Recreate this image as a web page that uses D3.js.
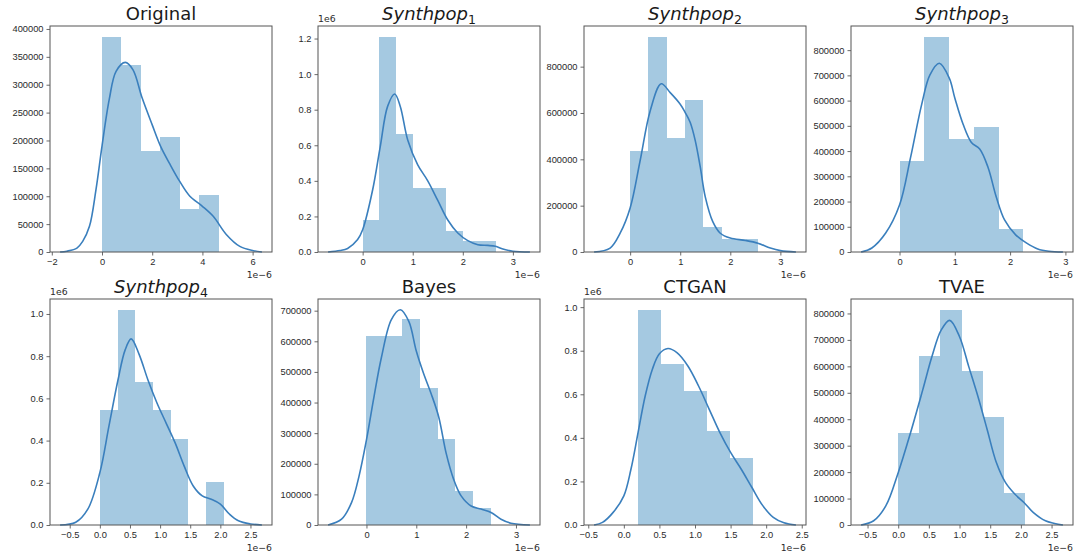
<!DOCTYPE html>
<html>
<head>
<meta charset="utf-8">
<script src="https://cdn.jsdelivr.net/npm/d3@7"></script>
<style>
  * { margin: 0; padding: 0; }
  body { background: #fff; width: 1075px; height: 556px; overflow: hidden; }
  svg { font-family: "DejaVu Sans", sans-serif; }
  .tick text { font-size: 9.3px; fill: #2a2a2a; }
  .tick line { stroke: #444; stroke-width: 0.8; }
</style>
</head>
<body>
<svg id="chart" width="1075" height="556"></svg>
<script>
// x values are in units of 1e-6 (as the axes read), y values are densities

// Original
const origEdges = [0, 0.775, 1.55, 2.325, 3.1, 3.875, 4.65];
const origHeights = [386000, 335000, 181000, 207000, 78000, 103000];
const origKdeX = [-1.67, -1.4, -1.0, -0.77, -0.5, -0.24, 0, 0.29, 0.56, 0.93, 1.23, 1.6, 2.0, 2.33, 2.7, 3.09, 3.5, 4.0, 4.43, 4.96, 5.49, 6.03, 6.37];
const origKdeY = [0, 1500, 7000, 19000, 46000, 112000, 190000, 274000, 324000, 340000, 327000, 276000, 228000, 190000, 158000, 127000, 100000, 82000, 64000, 31000, 10000, 2400, 0];
const origXTicks = [-2, 0, 2, 4, 6];
const origYTicks = [0, 50000, 100000, 150000, 200000, 250000, 300000, 350000, 400000];

// Synthpop 1
const sp1Edges = [0, 0.3325, 0.665, 0.9975, 1.33, 1.6625, 1.995, 2.3275, 2.66];
const sp1Heights = [180000, 1210000, 665000, 360000, 360000, 120000, 60000, 60000];
const sp1KdeX = [-0.69, -0.45, -0.3, -0.1, 0, 0.2, 0.35, 0.5, 0.64, 0.75, 0.9, 1.1, 1.3, 1.5, 1.7, 1.9, 2.1, 2.3, 2.5, 2.65, 2.8, 3.0, 3.34];
const sp1KdeY = [0, 8000, 20000, 70000, 125000, 350000, 590000, 820000, 888000, 820000, 630000, 490000, 400000, 290000, 180000, 107000, 64000, 41000, 37000, 32000, 17000, 4000, 0];
const sp1XTicks = [0, 1, 2, 3];
const sp1YTicks = [0, 200000, 400000, 600000, 800000, 1000000, 1200000];

// Synthpop 2
const sp2Edges = [0, 0.366, 0.731, 1.097, 1.463, 1.829, 2.194, 2.56];
const sp2Heights = [437000, 929000, 492000, 656000, 109000, 55000, 55000];
const sp2KdeX = [-0.72, -0.4, -0.2, 0, 0.2, 0.4, 0.62, 0.8, 1.0, 1.1, 1.2, 1.3, 1.4, 1.5, 1.65, 1.8, 2.0, 2.3, 2.55, 2.8, 3.0, 3.31];
const sp2KdeY = [0, 17000, 81000, 190000, 395000, 609000, 726000, 688000, 638000, 602000, 559000, 481000, 367000, 238000, 131000, 81000, 60000, 50000, 38000, 17000, 6000, 0];
const sp2XTicks = [0, 1, 2, 3];
const sp2YTicks = [0, 200000, 400000, 600000, 800000];

// Synthpop 3
const sp3Edges = [0, 0.448, 0.896, 1.344, 1.792, 2.24];
const sp3Heights = [359000, 853000, 449000, 494000, 90000];
const sp3KdeX = [-0.695, -0.5, -0.25, 0, 0.2, 0.4, 0.55, 0.72, 0.9, 1.0, 1.15, 1.3, 1.45, 1.6, 1.75, 1.9, 2.1, 2.3, 2.5, 2.7, 2.955];
const sp3KdeY = [0, 16000, 75000, 186000, 375000, 584000, 702000, 748000, 689000, 610000, 506000, 434000, 408000, 336000, 218000, 127000, 68000, 35000, 12000, 3000, 0];
const sp3XTicks = [0, 1, 2, 3];
const sp3YTicks = [0, 100000, 200000, 300000, 400000, 500000, 600000, 700000, 800000];

// Synthpop 4
const sp4Edges = [0, 0.294, 0.589, 0.883, 1.177, 1.471, 1.766, 2.06];
const sp4Heights = [544000, 1020000, 680000, 544000, 408000, 0, 204000];
const sp4KdeX = [-0.66, -0.4, -0.2, 0, 0.15, 0.3, 0.42, 0.52, 0.65, 0.8, 0.95, 1.1, 1.25, 1.4, 1.55, 1.7, 1.85, 2.0, 2.15, 2.3, 2.5, 2.69];
const sp4KdeY = [0, 13000, 75000, 248000, 467000, 686000, 830000, 882000, 810000, 686000, 577000, 483000, 389000, 279000, 185000, 138000, 122000, 99000, 52000, 20000, 5000, 0];
const sp4XTicks = [-0.5, 0, 0.5, 1, 1.5, 2, 2.5];
const sp4YTicks = [0, 200000, 400000, 600000, 800000, 1000000];

// Bayes
const bayesEdges = [0, 0.357, 0.714, 1.071, 1.429, 1.786, 2.143, 2.5];
const bayesHeights = [616000, 616000, 672000, 448000, 280000, 112000, 56000];
const bayesKdeX = [-0.77, -0.5, -0.3, -0.15, 0, 0.15, 0.3, 0.5, 0.68, 0.85, 1.0, 1.15, 1.3, 1.45, 1.6, 1.75, 1.9, 2.1, 2.3, 2.5, 2.7, 2.9, 3.28];
const bayesKdeY = [0, 19000, 73000, 159000, 278000, 418000, 547000, 671000, 703000, 665000, 568000, 493000, 428000, 353000, 234000, 149000, 95000, 62000, 52000, 41000, 19000, 6000, 0];
const bayesXTicks = [0, 1, 2, 3];
const bayesYTicks = [0, 100000, 200000, 300000, 400000, 500000, 600000, 700000];

// CTGAN
const ctganEdges = [0.2, 0.524, 0.848, 1.172, 1.496, 1.82];
const ctganHeights = [988000, 741000, 617000, 432000, 309000];
const ctganKdeX = [-0.418, -0.3, -0.15, 0, 0.1, 0.2, 0.3, 0.4, 0.5, 0.62, 0.75, 0.9, 1.05, 1.2, 1.35, 1.5, 1.65, 1.8, 1.95, 2.1, 2.25, 2.418];
const ctganKdeY = [0, 12000, 58000, 134000, 256000, 424000, 592000, 714000, 786000, 810000, 790000, 730000, 638000, 531000, 424000, 333000, 256000, 172000, 90000, 35000, 10000, 0];
const ctganXTicks = [-0.5, 0, 0.5, 1, 1.5, 2, 2.5];
const ctganYTicks = [0, 200000, 400000, 600000, 800000, 1000000];

// TVAE
const tvaeEdges = [0, 0.344, 0.688, 1.032, 1.376, 1.72, 2.064];
const tvaeHeights = [349000, 639000, 814000, 581000, 407000, 120000];
const tvaeKdeX = [-0.605, -0.4, -0.2, 0, 0.2, 0.4, 0.55, 0.7, 0.84, 1.0, 1.15, 1.3, 1.45, 1.6, 1.75, 1.9, 2.05, 2.2, 2.4, 2.55, 2.685];
const tvaeKdeY = [0, 16000, 73000, 198000, 348000, 511000, 637000, 737000, 774000, 712000, 599000, 486000, 361000, 236000, 160000, 117000, 85000, 48000, 16000, 6000, 0];
const tvaeXTicks = [-0.5, 0, 0.5, 1, 1.5, 2, 2.5];
const tvaeYTicks = [0, 100000, 200000, 300000, 400000, 500000, 600000, 700000, 800000];

const titles = ["Original", "Synthpop", "Synthpop", "Synthpop", "Synthpop", "Bayes", "CTGAN", "TVAE"];
const titleSubs = ["", "1", "2", "3", "4", "", "", ""];
const sciY = [false, true, false, false, true, false, true, false]; // y axis shown with a 1e6 offset

const panels = [
  [origEdges, origHeights, origKdeX, origKdeY, origXTicks, origYTicks],
  [sp1Edges, sp1Heights, sp1KdeX, sp1KdeY, sp1XTicks, sp1YTicks],
  [sp2Edges, sp2Heights, sp2KdeX, sp2KdeY, sp2XTicks, sp2YTicks],
  [sp3Edges, sp3Heights, sp3KdeX, sp3KdeY, sp3XTicks, sp3YTicks],
  [sp4Edges, sp4Heights, sp4KdeX, sp4KdeY, sp4XTicks, sp4YTicks],
  [bayesEdges, bayesHeights, bayesKdeX, bayesKdeY, bayesXTicks, bayesYTicks],
  [ctganEdges, ctganHeights, ctganKdeX, ctganKdeY, ctganXTicks, ctganYTicks],
  [tvaeEdges, tvaeHeights, tvaeKdeX, tvaeKdeY, tvaeXTicks, tvaeYTicks]
].map((p, i) => ({
  edges: p[0], heights: p[1],
  kde: p[2].map((x, j) => [x, p[3][j]]),
  xTicks: p[4], yTicks: p[5],
  title: titles[i], sub: titleSubs[i], sci: sciY[i]
}));

const colLeft = [50, 318, 584, 851];
const rowTop = [26, 299];
const pw = 222, ph = 226;
const blue = "#1f77b4";

const svg = d3.select("#chart");
svg.append("rect").attr("width", 1075).attr("height", 556).attr("fill", "#fff");

panels.forEach((p, i) => {
  const g = svg.append("g")
    .attr("transform", `translate(${colLeft[i % 4]},${rowTop[Math.floor(i / 4)]})`);

  // matplotlib style autoscale: 5% margins on x, 5% headroom on y
  const [x0, x1] = d3.extent(p.kde, d => d[0]);
  const pad = (x1 - x0) * 0.05;
  const x = d3.scaleLinear().domain([x0 - pad, x1 + pad]).range([0, pw]);
  const yMax = Math.max(d3.max(p.heights), d3.max(p.kde, d => d[1])) * 1.05;
  const y = d3.scaleLinear().domain([0, yMax]).range([ph, 0]);

  const bins = p.heights.map((h, j) => ({ x0: p.edges[j], x1: p.edges[j + 1], h }));
  g.selectAll("rect.bar")
    .data(bins.filter(d => d.h > 0))
    .join("rect")
    .attr("class", "bar")
    .attr("x", d => x(d.x0))
    .attr("width", d => x(d.x1) - x(d.x0))
    .attr("y", d => y(d.h))
    .attr("height", d => y(0) - y(d.h))
    .attr("fill", blue)
    .attr("fill-opacity", 0.4)
    .attr("shape-rendering", "crispEdges");

  g.append("path")
    .datum(p.kde)
    .attr("fill", "none")
    .attr("stroke", "#3a7fbd")
    .attr("stroke-width", 1.6)
    .attr("d", d3.line().x(d => x(d[0])).y(d => y(Math.max(0, d[1]))).curve(d3.curveCatmullRom.alpha(0.5)));

  const xFmt = p.xTicks.some(t => t % 1 !== 0) ? d3.format(".1f") : d3.format("d");
  const yFmt = p.sci ? (d => d3.format(".1f")(d / 1e6)) : d3.format("d");

  const xa = g.append("g")
    .attr("transform", `translate(0,${ph})`)
    .call(d3.axisBottom(x).tickValues(p.xTicks).tickFormat(xFmt).tickSize(3.5).tickPadding(3));
  xa.select(".domain").remove();
  const ya = g.append("g")
    .call(d3.axisLeft(y).tickValues(p.yTicks).tickFormat(yFmt).tickSize(3.5).tickPadding(3));
  ya.select(".domain").remove();
  g.selectAll(".tick text").attr("font-family", null).attr("font-size", null);

  g.append("rect")
    .attr("width", pw).attr("height", ph)
    .attr("fill", "none").attr("stroke", "#555").attr("stroke-width", 1);

  g.append("text")
    .attr("x", pw).attr("y", ph + 26)
    .attr("text-anchor", "end")
    .attr("font-size", 9.3).attr("fill", "#2a2a2a")
    .text("1e\u22126");

  if (p.sci) {
    g.append("text")
      .attr("x", 0).attr("y", -4)
      .attr("font-size", 9.3).attr("fill", "#2a2a2a")
      .text("1e6");
  }

  const t = g.append("text")
    .attr("x", pw / 2).attr("y", -6)
    .attr("text-anchor", "middle")
    .attr("font-size", 18).attr("fill", "#1a1a1a");
  if (p.sub) {
    t.append("tspan").attr("font-style", "italic").text(p.title);
    t.append("tspan").attr("font-size", 12.5).attr("dy", 3.5).text(p.sub);
  } else {
    t.text(p.title);
  }
});
</script>
</body>
</html>
